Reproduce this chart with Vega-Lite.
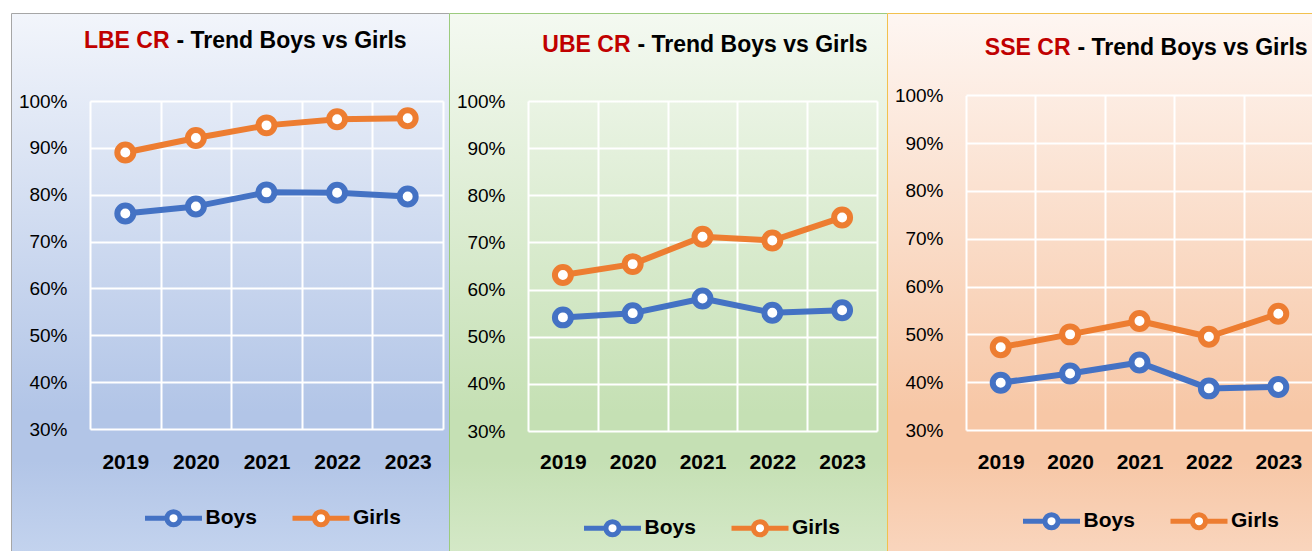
{
  "$schema": "https://vega.github.io/schema/vega-lite/v6.json",
  "padding": {"left": 10, "top": 12, "right": 0, "bottom": 0},
  "spacing": 0,
  "bounds": "flush",
  "config": {
    "font": "Liberation Sans",
    "view": {"strokeWidth": 1},
    "axis": {
      "grid": true, "gridColor": "#FFFFFF", "gridWidth": 2, "gridOpacity": 1,
      "domain": false, "ticks": false, "tickSize": 0, "labelColor": "#000000"
    },
    "axisX": {"labelFontSize": 21, "labelFontWeight": "bold", "labelAngle": 0, "tickBand": "extent", "labelBaseline": "alphabetic"},
    "axisY": {"labelFontSize": 19, "labelPadding": 23},
    "legend": {
      "orient": "none", "direction": "horizontal", "padding": 0,
      "symbolType": "M-1,0L-0.23,0M0.23,0L1,0M0.23,0A0.23,0.23,0,1,1,-0.23,0A0.23,0.23,0,1,1,0.23,0Z",
      "symbolSize": 3249, "symbolStrokeWidth": 5, "symbolFillColor": "#FFFFFF",
      "labelFontSize": 21, "labelFontWeight": "bold", "labelColor": "#000000",
      "labelOffset": 1, "columnPadding": 24.5
    }
  },
  "resolve": {"scale": {"stroke": "independent"}, "legend": {"stroke": "independent"}},
  "hconcat": [
    {
      "width": 438, "height": 539,
      "view": {"fill": {"gradient": "linear", "x1": 0, "y1": 0, "x2": 0, "y2": 1, "stops": [{"offset": 0, "color": "#F2F5FB"}, {"offset": 0.74, "color": "#B2C5E7"}, {"offset": 0.83, "color": "#B2C5E7"}, {"offset": 1, "color": "#C3D3EE"}]}, "stroke": "#A6A6A6"},
      "data": {"values": [
        {"year": 2019, "sex": "Boys", "rate": 0.760}, {"year": 2020, "sex": "Boys", "rate": 0.775}, {"year": 2021, "sex": "Boys", "rate": 0.805}, {"year": 2022, "sex": "Boys", "rate": 0.804}, {"year": 2023, "sex": "Boys", "rate": 0.796},
        {"year": 2019, "sex": "Girls", "rate": 0.890}, {"year": 2020, "sex": "Girls", "rate": 0.921}, {"year": 2021, "sex": "Girls", "rate": 0.948}, {"year": 2022, "sex": "Girls", "rate": 0.961}, {"year": 2023, "sex": "Girls", "rate": 0.963}
      ]},
      "layer": [
        {
          "mark": {"type": "line", "strokeWidth": 6, "strokeJoin": "round"},
          "encoding": {
            "x": {"field": "year", "type": "ordinal", "scale": {"type": "band", "range": [79, 432], "paddingInner": 0, "paddingOuter": 0}, "axis": {"orient": "top", "offset": -416, "labelPadding": -39, "title": null}},
            "y": {"field": "rate", "type": "quantitative", "scale": {"domain": [0.3, 1.0], "range": [416, 88], "nice": false, "zero": false}, "axis": {"offset": -79, "values": [0.3, 0.4, 0.5, 0.6, 0.7, 0.8, 0.9, 1.0], "format": ".0%", "title": null}},
            "stroke": {"field": "sex", "type": "nominal", "scale": {"domain": ["Boys", "Girls"], "range": ["#4472C4", "#ED7D31"]}, "legend": {"title": null, "legendX": 131.5, "legendY": 474, "encode": {"symbols": {"update": {"fill": {"value": "#FFFFFF"}, "strokeWidth": {"value": 5}, "opacity": {"value": 1}}}}}}
          }
        },
        {
          "mark": {"type": "point", "shape": "circle", "filled": true, "fill": "#FFFFFF", "size": 254, "strokeWidth": 6, "opacity": 1},
          "encoding": {
            "x": {"field": "year", "type": "ordinal"},
            "y": {"field": "rate", "type": "quantitative"},
            "stroke": {"field": "sex", "type": "nominal"}
          }
        },
        {
          "data": {"values": [{"part": "LBE CR"}]},
          "mark": {"type": "text", "align": "right", "baseline": "alphabetic", "dx": -97, "fontSize": 23, "fontWeight": "bold", "color": "#C00000"},
          "encoding": {"x": {"datum": 2021, "type": "ordinal"}, "y": {"datum": 1.1125, "type": "quantitative"}, "text": {"field": "part"}}
        },
        {
          "data": {"values": [{"part": "- Trend Boys vs Girls"}]},
          "mark": {"type": "text", "align": "left", "baseline": "alphabetic", "dx": -90, "fontSize": 23, "fontWeight": "bold", "color": "#000000"},
          "encoding": {"x": {"datum": 2021, "type": "ordinal"}, "y": {"datum": 1.1125, "type": "quantitative"}, "text": {"field": "part"}}
        }
      ]
    },
    {
      "width": 438, "height": 539,
      "view": {"fill": {"gradient": "linear", "x1": 0, "y1": 0, "x2": 0, "y2": 1, "stops": [{"offset": 0, "color": "#F4F9F1"}, {"offset": 0.74, "color": "#C5E0B4"}, {"offset": 0.83, "color": "#C5E0B4"}, {"offset": 1, "color": "#D4E8C7"}]}, "stroke": "#9CCB7E"},
      "data": {"values": [
        {"year": 2019, "sex": "Boys", "rate": 0.541}, {"year": 2020, "sex": "Boys", "rate": 0.550}, {"year": 2021, "sex": "Boys", "rate": 0.581}, {"year": 2022, "sex": "Boys", "rate": 0.551}, {"year": 2023, "sex": "Boys", "rate": 0.556},
        {"year": 2019, "sex": "Girls", "rate": 0.631}, {"year": 2020, "sex": "Girls", "rate": 0.654}, {"year": 2021, "sex": "Girls", "rate": 0.712}, {"year": 2022, "sex": "Girls", "rate": 0.704}, {"year": 2023, "sex": "Girls", "rate": 0.753}
      ]},
      "layer": [
        {
          "mark": {"type": "line", "strokeWidth": 6, "strokeJoin": "round"},
          "encoding": {
            "x": {"field": "year", "type": "ordinal", "scale": {"type": "band", "range": [79, 428], "paddingInner": 0, "paddingOuter": 0}, "axis": {"orient": "top", "offset": -418, "labelPadding": -37, "title": null}},
            "y": {"field": "rate", "type": "quantitative", "scale": {"domain": [0.3, 1.0], "range": [418, 88], "nice": false, "zero": false}, "axis": {"offset": -79, "values": [0.3, 0.4, 0.5, 0.6, 0.7, 0.8, 0.9, 1.0], "format": ".0%", "title": null}},
            "stroke": {"field": "sex", "type": "nominal", "scale": {"domain": ["Boys", "Girls"], "range": ["#4472C4", "#ED7D31"]}, "legend": {"title": null, "legendX": 132.5, "legendY": 484, "encode": {"symbols": {"update": {"fill": {"value": "#FFFFFF"}, "strokeWidth": {"value": 5}, "opacity": {"value": 1}}}}}}
          }
        },
        {
          "mark": {"type": "point", "shape": "circle", "filled": true, "fill": "#FFFFFF", "size": 254, "strokeWidth": 6, "opacity": 1},
          "encoding": {
            "x": {"field": "year", "type": "ordinal"},
            "y": {"field": "rate", "type": "quantitative"},
            "stroke": {"field": "sex", "type": "nominal"}
          }
        },
        {
          "data": {"values": [{"part": "UBE CR"}]},
          "mark": {"type": "text", "align": "right", "baseline": "alphabetic", "dx": -72, "fontSize": 23, "fontWeight": "bold", "color": "#C00000"},
          "encoding": {"x": {"datum": 2021, "type": "ordinal"}, "y": {"datum": 1.1039, "type": "quantitative"}, "text": {"field": "part"}}
        },
        {
          "data": {"values": [{"part": "- Trend Boys vs Girls"}]},
          "mark": {"type": "text", "align": "left", "baseline": "alphabetic", "dx": -65, "fontSize": 23, "fontWeight": "bold", "color": "#000000"},
          "encoding": {"x": {"datum": 2021, "type": "ordinal"}, "y": {"datum": 1.1039, "type": "quantitative"}, "text": {"field": "part"}}
        }
      ]
    },
    {
      "width": 426, "height": 539,
      "view": {"fill": {"gradient": "linear", "x1": 0, "y1": 0, "x2": 0, "y2": 1, "stops": [{"offset": 0, "color": "#FEF6F2"}, {"offset": 0.74, "color": "#F7C7A6"}, {"offset": 0.83, "color": "#F7C7A6"}, {"offset": 1, "color": "#F9D5BD"}]}, "stroke": "#F2C14E"},
      "data": {"values": [
        {"year": 2019, "sex": "Boys", "rate": 0.399}, {"year": 2020, "sex": "Boys", "rate": 0.418}, {"year": 2021, "sex": "Boys", "rate": 0.441}, {"year": 2022, "sex": "Boys", "rate": 0.387}, {"year": 2023, "sex": "Boys", "rate": 0.390},
        {"year": 2019, "sex": "Girls", "rate": 0.473}, {"year": 2020, "sex": "Girls", "rate": 0.500}, {"year": 2021, "sex": "Girls", "rate": 0.528}, {"year": 2022, "sex": "Girls", "rate": 0.495}, {"year": 2023, "sex": "Girls", "rate": 0.543}
      ]},
      "layer": [
        {
          "mark": {"type": "line", "strokeWidth": 6, "strokeJoin": "round"},
          "encoding": {
            "x": {"field": "year", "type": "ordinal", "scale": {"type": "band", "range": [79, 426], "paddingInner": 0, "paddingOuter": 0}, "axis": {"orient": "top", "offset": -417, "labelPadding": -38, "title": null}},
            "y": {"field": "rate", "type": "quantitative", "scale": {"domain": [0.3, 1.0], "range": [417, 82.3], "nice": false, "zero": false}, "axis": {"offset": -79, "values": [0.3, 0.4, 0.5, 0.6, 0.7, 0.8, 0.9, 1.0], "format": ".0%", "title": null}},
            "stroke": {"field": "sex", "type": "nominal", "scale": {"domain": ["Boys", "Girls"], "range": ["#4472C4", "#ED7D31"]}, "legend": {"title": null, "legendX": 133.5, "legendY": 477, "encode": {"symbols": {"update": {"fill": {"value": "#FFFFFF"}, "strokeWidth": {"value": 5}, "opacity": {"value": 1}}}}}}
          }
        },
        {
          "mark": {"type": "point", "shape": "circle", "filled": true, "fill": "#FFFFFF", "size": 254, "strokeWidth": 6, "opacity": 1},
          "encoding": {
            "x": {"field": "year", "type": "ordinal"},
            "y": {"field": "rate", "type": "quantitative"},
            "stroke": {"field": "sex", "type": "nominal"}
          }
        },
        {
          "data": {"values": [{"part": "SSE CR"}]},
          "mark": {"type": "text", "align": "right", "baseline": "alphabetic", "dx": -69, "fontSize": 23, "fontWeight": "bold", "color": "#C00000"},
          "encoding": {"x": {"datum": 2021, "type": "ordinal"}, "y": {"datum": 1.0837, "type": "quantitative"}, "text": {"field": "part"}}
        },
        {
          "data": {"values": [{"part": "- Trend Boys vs Girls"}]},
          "mark": {"type": "text", "align": "left", "baseline": "alphabetic", "dx": -62, "fontSize": 23, "fontWeight": "bold", "color": "#000000"},
          "encoding": {"x": {"datum": 2021, "type": "ordinal"}, "y": {"datum": 1.0837, "type": "quantitative"}, "text": {"field": "part"}}
        }
      ]
    }
  ]
}
